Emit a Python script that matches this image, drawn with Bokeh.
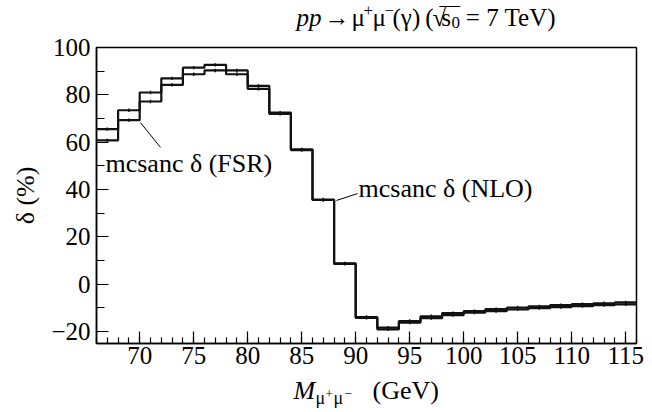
from bokeh.plotting import figure
from bokeh.layouts import column
from bokeh.models import Range1d, Label, Arrow, SingleIntervalTicker, CustomJSTickFormatter
from bokeh.embed import file_html
from bokeh.resources import INLINE

# ---- data ----
bin_edges = [66, 68, 70, 72, 74, 76, 78, 80, 82, 84, 86, 88, 90, 92, 94, 96,
             98, 100, 102, 104, 106, 108, 110, 112, 114, 116]
delta_nlo = [65.5, 73.5, 81.0, 87.0, 91.5, 92.7, 90.3, 83.8, 72.5, 57.0, 35.8, 8.8,
             -13.8, -18.3, -15.5, -13.5, -12.2, -11.3, -10.5, -9.8, -9.3, -8.8,
             -8.4, -8.0, -7.6]
delta_fsr = [60.8, 69.3, 77.2, 84.2, 88.7, 90.3, 88.7, 82.5, 72.0, 56.7, 35.6, 8.6,
             -14.2, -19.0, -16.2, -14.3, -13.0, -12.0, -11.3, -10.6, -10.1, -9.6,
             -9.2, -8.8, -8.5]
err_nlo = [0.7] * 25
err_fsr = [0.7] * 25

x_ticks_interval = 5
y_ticks_interval = 20

FONT = "Liberation Serif, serif"
INK = "#111111"
W = 652
LB, RB = 96, 16

# ---------------- main plot (page y 34..377, frame 47..343) ----------------
p = figure(width=W, height=343, output_backend="svg", toolbar_location=None,
           x_range=Range1d(66, 116), y_range=Range1d(-25, 100),
           min_border_left=LB, min_border_right=RB, min_border_top=13, min_border_bottom=34)
p.background_fill_color = "white"
p.border_fill_color = "white"
p.outline_line_color = "black"
p.outline_line_width = 1.5
p.grid.visible = False

minus_fmt = CustomJSTickFormatter(code="return tick < 0 ? '\u2212' + Math.abs(tick) : String(tick);")

xa = p.xaxis[0]
xa.ticker = SingleIntervalTicker(interval=x_ticks_interval, num_minor_ticks=5)
ya = p.yaxis[0]
ya.ticker = SingleIntervalTicker(interval=y_ticks_interval, num_minor_ticks=2)
for ax in (xa, ya):
    ax.axis_line_color = "black"
    ax.axis_line_width = 1.5
    ax.major_tick_in = 12
    ax.major_tick_out = 0
    ax.minor_tick_in = 6
    ax.minor_tick_out = 0
    ax.major_tick_line_color = "black"
    ax.minor_tick_line_color = "black"
    ax.major_tick_line_width = 1.2
    ax.minor_tick_line_width = 1.2
    ax.major_label_text_font_size = "25px"
    ax.major_label_text_color = "black"
    ax.major_label_text_font = FONT
    ax.formatter = minus_fmt
ya.minor_tick_in = 8
xa.major_label_standoff = 3
ya.major_label_standoff = 6
ya.axis_label = "δ (%)"
ya.axis_label_text_font = FONT
ya.axis_label_text_font_style = "normal"
ya.axis_label_text_font_size = "26px"
ya.axis_label_text_color = "black"
ya.axis_label_standoff = 8

centers = [(a + b) / 2 for a, b in zip(bin_edges[:-1], bin_edges[1:])]
for vals, errs in ((delta_fsr, err_fsr), (delta_nlo, err_nlo)):
    p.step(bin_edges, vals + [vals[-1]], mode="after", line_color=INK, line_width=2.2)
    p.segment(x0=centers, y0=[v - e for v, e in zip(vals, errs)],
              x1=centers, y1=[v + e for v, e in zip(vals, errs)],
              line_color=INK, line_width=1.5)


def lab(fig, x, y, text, size="26px", style="normal"):
    fig.add_layout(Label(x=x, y=y, text=text, text_font=FONT, text_font_size=size,
                         text_font_style=style, text_color="black",
                         text_align="left", text_baseline="middle"))


def seg(fig, x0, y0, x1, y1, w=1.0):
    fig.add_layout(Arrow(x_start=x0, y_start=y0, x_end=x1, y_end=y1, end=None,
                         line_color="black", line_width=w))


lab(p, 66.83, 51.0, "mcsanc δ (FSR)")
seg(p, 70.07, 68.3, 71.93, 57.8)
lab(p, 90.26, 40.5, "mcsanc δ (NLO)")
seg(p, 88.22, 35.4, 90.17, 38.3)


def strip(h):
    f = figure(width=W, height=h, output_backend="svg", toolbar_location=None,
               x_range=Range1d(66, 116), y_range=Range1d(0, h),
               min_border_left=LB, min_border_right=RB, min_border_top=0, min_border_bottom=0)
    f.axis.visible = False
    f.grid.visible = False
    f.outline_line_color = None
    f.background_fill_color = "white"
    f.border_fill_color = "white"
    return f


# ---------------- title strip (page y 0..34) ----------------
t = strip(34)
ty = 17
TS = "25px"
lab(t, 84.52, ty, "pp", size=TS, style="italic")
lab(t, 87.11, ty, "→", size=TS)
lab(t, 89.61, ty, "μ", size=TS)
lab(t, 90.72, ty + 7, "+", size="17px")
lab(t, 91.56, ty, "μ", size=TS)
lab(t, 92.67, ty + 7, "−", size="17px")
lab(t, 93.41, ty, "(γ)", size=TS)
lab(t, 96.45, ty, "(", size=TS)
lab(t, 97.10, ty, "√", size=TS)
lab(t, 97.93, ty, "s", size=TS)
lab(t, 98.86, ty - 5, "0", size="17px")
lab(t, 100.20, ty, "= 7 TeV)", size=TS)
seg(t, 97.74, 28, 99.69, 28, 1.2)

# ---------------- x-axis title strip (page y 377..412) ----------------
b = strip(35)
by = 22
lab(b, 84.24, by, "M", style="italic")
lab(b, 86.28, by - 7, "μ", size="18px")
lab(b, 87.20, by - 3, "+", size="13px")
lab(b, 87.95, by - 7, "μ", size="18px")
lab(b, 88.97, by - 3, "−", size="13px")
lab(b, 91.56, by, "(GeV)")

layout = column(t, p, b, spacing=0)
open("out.html", "w").write(file_html(layout, INLINE))
